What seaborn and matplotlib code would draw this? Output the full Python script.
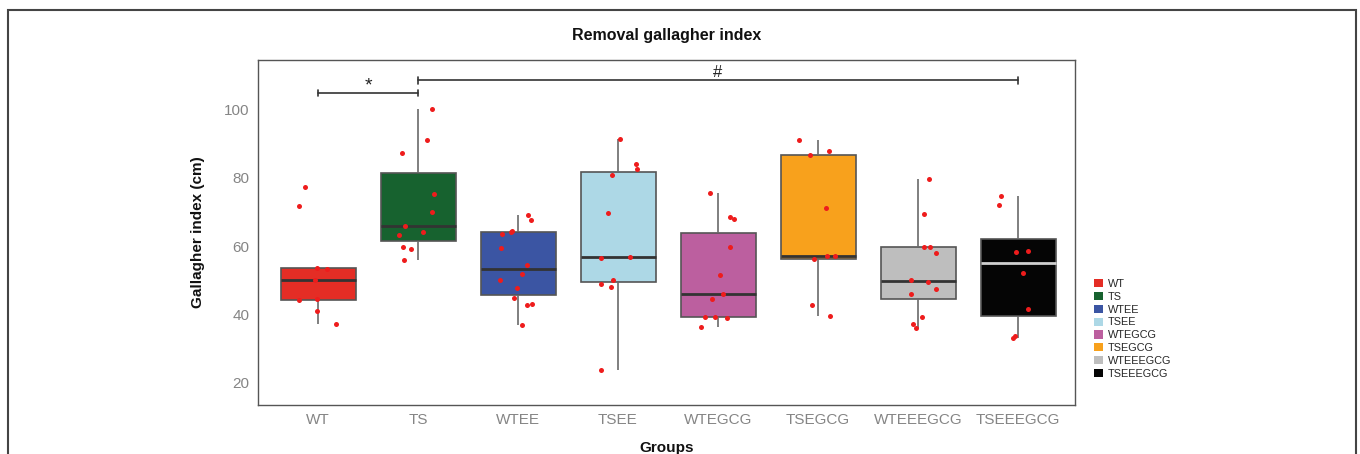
import numpy as np
import pandas as pd
import matplotlib
matplotlib.use("Agg")
import matplotlib.pyplot as plt
import seaborn as sns
from matplotlib.patches import Patch, Rectangle

# ---- data ----
groups = ["WT", "TS", "WTEE", "TSEE", "WTEGCG", "TSEGCG", "WTEEEGCG", "TSEEEGCG"]
colors = ["#E42D25", "#17622F", "#3B55A3", "#ADD8E6", "#BC5F9F", "#F8A11C", "#BEBEBE", "#050505"]

wt = [77.4, 71.8, 53.6, 53.2, 50.0, 44.4, 44.1, 41.0, 37.0]
ts = [100.3, 91.2, 87.4, 75.4, 70.0, 65.9, 64.0, 63.1, 59.7, 59.0, 56.0]
wtee = [69.0, 67.6, 64.5, 64.2, 63.6, 59.3, 54.3, 51.9, 50.1, 47.6, 44.8, 43.0, 42.6, 36.7]
tsee = [91.5, 84.2, 82.6, 80.8, 69.8, 56.8, 56.6, 50.1, 48.7, 48.0, 23.4]
wtegcg = [75.7, 68.5, 67.9, 59.6, 51.4, 45.8, 44.5, 39.2, 39.1, 38.9, 36.2]
tsegcg = [91.1, 88.0, 86.8, 71.3, 57.2, 57.1, 56.2, 42.6, 39.5]
wteeegcg = [79.7, 69.4, 59.7, 59.7, 57.9, 50.1, 49.5, 47.5, 46.0, 39.2, 37.1, 35.8]
tseeegcg = [74.7, 72.2, 58.6, 58.1, 52.0, 41.4, 33.4, 33.0]

yticks = [20, 40, 60, 80, 100]

# significance brackets: (start group index, end group index, height, label)
brackets = [(0, 1, 105.0, "*"), (1, 7, 108.7, "#")]

values = [wt, ts, wtee, tsee, wtegcg, tsegcg, wteeegcg, tseeegcg]
df = pd.DataFrame({
    "group": np.repeat(groups, [len(v) for v in values]),
    "value": np.concatenate(values),
})

sns.set_theme(style="white")
plt.rcParams["font.family"] = ["Liberation Sans", "DejaVu Sans"]

W, H = 1360, 454
fig = plt.figure(figsize=(W / 100, H / 100), dpi=100)
ax = fig.add_axes([258 / W, 1 - 404.5 / H, (1075 - 258) / W, (404.5 - 60.3) / H])

sns.boxplot(data=df, x="group", y="value", hue="group", order=groups, hue_order=groups,
            palette=dict(zip(groups, colors)), saturation=1, width=0.75, dodge=False,
            showfliers=False, showcaps=False, linecolor="#555555", linewidth=1.2,
            whiskerprops=dict(color="#6a6a6a"),
            medianprops=dict(color="#333333", linewidth=2.0),
            legend=False, ax=ax)

# light median on the black box
for ln in ax.lines:
    x = np.asarray(ln.get_xdata(), dtype=float)
    y = np.asarray(ln.get_ydata(), dtype=float)
    if len(x) == 2 and y[0] == y[1] and abs(x[1] - x[0]) > 0.5:
        ln.set_color("#333333")
        ln.set_linewidth(2.0)
        if x.mean() > 6.5:
            ln.set_color("#D0D0D0")

np.random.seed(11)
sns.stripplot(data=df, x="group", y="value", order=groups, color="#EE1C1C",
              size=3.6, jitter=0.2, linewidth=0, ax=ax, zorder=5)

for x0, x1, yb, lab in brackets:
    ax.plot([x0, x1], [yb, yb], color="#333333", lw=1.2, zorder=6)
    for xe in (x0, x1):
        ax.plot([xe, xe], [yb - 1.0, yb + 1.0], color="#333333", lw=1.2, zorder=6)
    ax.text((x0 + x1) / 2, yb + 2.2, lab, ha="center", va="center",
            fontsize=14 if lab == "*" else 12, color="#222222")

ax.set_xlim(-0.6, 7.57)
ax.set_ylim(13.4, 114.6)
ax.set_yticks(yticks)
ax.tick_params(axis="both", length=0, labelsize=11, labelcolor="#858585")
ax.tick_params(axis="x", pad=6)
ax.tick_params(axis="y", pad=6)
for s in ax.spines.values():
    s.set_visible(True)
    s.set_color("#555555")
    s.set_linewidth(1.0)

ax.set_title("Removal gallagher index", fontsize=11.5, fontweight="bold", pad=14.4, color="#111111")
ax.set_xlabel("Groups", fontsize=11, fontweight="bold", labelpad=10, color="#111111")
ax.set_ylabel("Gallagher index (cm)", fontsize=11, fontweight="bold", labelpad=14, color="#111111")

handles = [Patch(facecolor=c, edgecolor="none", label=g) for g, c in zip(groups, colors)]
fig.legend(handles=handles, loc="upper left", bbox_to_anchor=(1094 / W, 1 - 279 / H),
           frameon=False, fontsize=7.8, handlelength=0.8, handleheight=0.8,
           handletextpad=0.5, labelspacing=0.26, borderpad=0, borderaxespad=0)

fig.patches.append(Rectangle((8 / W, -0.1), (1356 - 8) / W, 1.1 - 10 / H,
                             transform=fig.transFigure, fill=False,
                             edgecolor="#444444", linewidth=1.5))

fig.savefig("out.png", dpi=100)
